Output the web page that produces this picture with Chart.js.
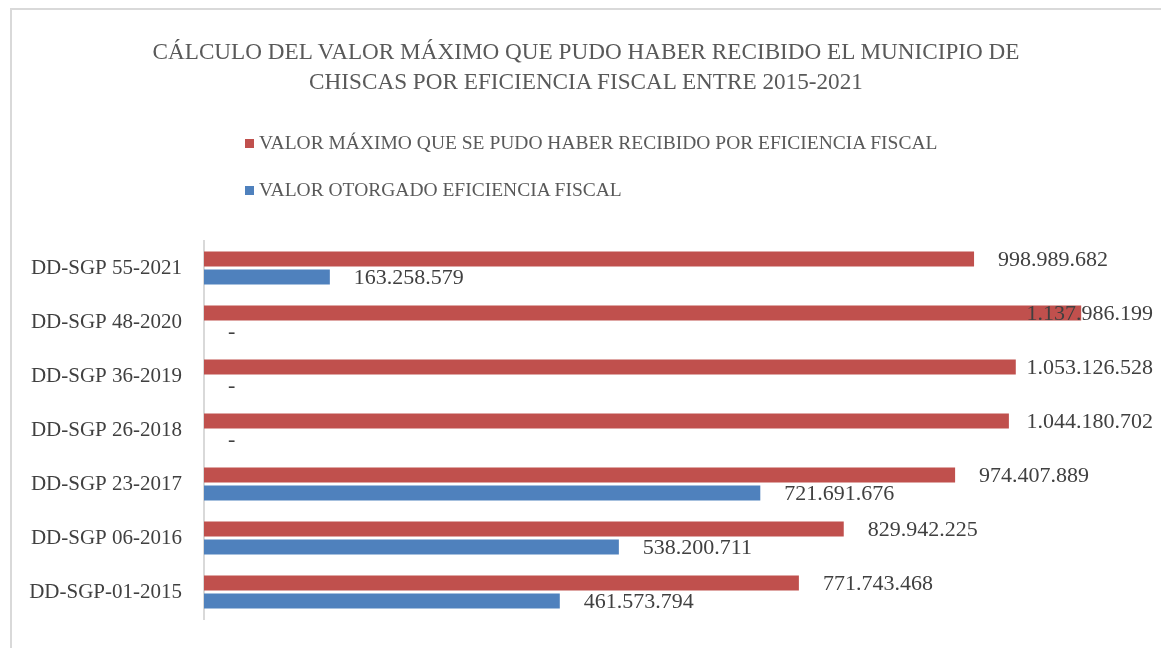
<!DOCTYPE html>
<html>
<head>
<meta charset="utf-8">
<script src="https://cdn.jsdelivr.net/npm/chart.js@4/dist/chart.umd.min.js"></script>
<style>
    body { margin: 0; background: #fff; font-family: 'Liberation Serif', serif; }
    #wrap { position: relative; width: 1161px; height: 648px; overflow: hidden; }
    #frame { position: absolute; left: 10px; top: 8px; width: 1200px; height: 700px;
             border-left: 2px solid #d9d9d9; border-top: 2px solid #d9d9d9; }
    #title { position: absolute; left: 0; top: 36px; width: 1172px; text-align: center;
             font-size: 23.2px; line-height: 30px; color: #595959; }
    .leg { position: absolute; left: 245px; font-size: 19.5px; color: #595959; white-space: nowrap; }
    .leg span { display: inline-block; width: 9px; height: 9px; margin-right: 5px; vertical-align: 1px; }
    canvas { position: absolute; left: 0; top: 0; }
</style>
</head>
<body>
<div id="wrap">
    <div id="frame"></div>
    <canvas id="chart" width="1161" height="648"></canvas>
    <div id="title">CÁLCULO DEL VALOR MÁXIMO QUE PUDO HABER RECIBIDO EL MUNICIPIO DE<br>CHISCAS POR EFICIENCIA FISCAL ENTRE 2015-2021</div>
    <div id="legend"></div>
</div>
<script>
const categories = ['DD-SGP 55-2021', 'DD-SGP 48-2020', 'DD-SGP 36-2019', 'DD-SGP 26-2018',
                    'DD-SGP 23-2017', 'DD-SGP 06-2016', 'DD-SGP-01-2015'];
const maxValues = [998989682, 1137986199, 1053126528, 1044180702, 974407889, 829942225, 771743468];
const grantedValues = [163258579, 0, 0, 0, 721691676, 538200711, 461573794];
const seriesNames = ['VALOR MÁXIMO QUE SE PUDO HABER RECIBIDO POR EFICIENCIA FISCAL',
                     'VALOR OTORGADO EFICIENCIA FISCAL'];
const seriesColors = ['#C0504D', '#4F81BD'];

// formato 1.234.567, cero como "-"
function fmt(v) {
    if (v === 0) return '-';
    return String(v).replace(/\B(?=(\d{3})+(?!\d))/g, '.');
}

// Leyenda apilada como en el original
const legendEl = document.getElementById('legend');
seriesNames.forEach((name, i) => {
    const row = document.createElement('div');
    row.className = 'leg';
    row.style.top = (132 + i * 47) + 'px';
    row.innerHTML = `<span style="background:${seriesColors[i]}"></span>${name}`;
    legendEl.appendChild(row);
});

// Etiquetas de valor a la derecha de cada barra
const valueLabels = {
    id: 'valueLabels',
    afterDatasetsDraw(chart) {
        const ctx = chart.ctx;
        ctx.save();
        ctx.font = '22px "Liberation Serif"';
        ctx.fillStyle = '#404040';
        ctx.textBaseline = 'middle';
        chart.data.datasets.forEach((ds, di) => {
            chart.getDatasetMeta(di).data.forEach((bar, i) => {
                const text = fmt(ds.data[i]);
                const w = ctx.measureText(text).width;
                const x = Math.min(bar.x + 24, 1153 - w);
                ctx.fillText(text, x, bar.y + 1);
            });
        });
        ctx.restore();
    }
};

const ctx = document.getElementById('chart').getContext('2d');
new Chart(ctx, {
    type: 'bar',
    data: {
        labels: categories,
        datasets: [
            { label: seriesNames[0], data: maxValues, backgroundColor: seriesColors[0] },
            { label: seriesNames[1], data: grantedValues, backgroundColor: seriesColors[1] }
        ]
    },
    options: {
        indexAxis: 'y',
        responsive: false,
        animation: false,
        categoryPercentage: 0.667,
        barPercentage: 0.83,
        layout: { padding: { top: 241, bottom: 29, right: 32, left: 0 } },
        plugins: {
            legend: { display: false },
            title: { display: false },
            tooltip: { enabled: false }
        },
        scales: {
            x: { display: false, min: 0, max: 1200000000 },
            y: {
                grid: { display: false, drawTicks: false },
                border: { display: true, color: '#d9d9d9', width: 2 },
                ticks: {
                    padding: 22,
                    color: '#404040',
                    font: { family: 'Liberation Serif', size: 21 }
                },
                afterFit(scale) {
                    scale.width = 204;
                    // el padding de ticks no debe recortar el area vertical
                    scale.paddingTop = 0;
                    scale.paddingBottom = 0;
                }
            }
        }
    },
    plugins: [valueLabels]
});
</script>
</body>
</html>
